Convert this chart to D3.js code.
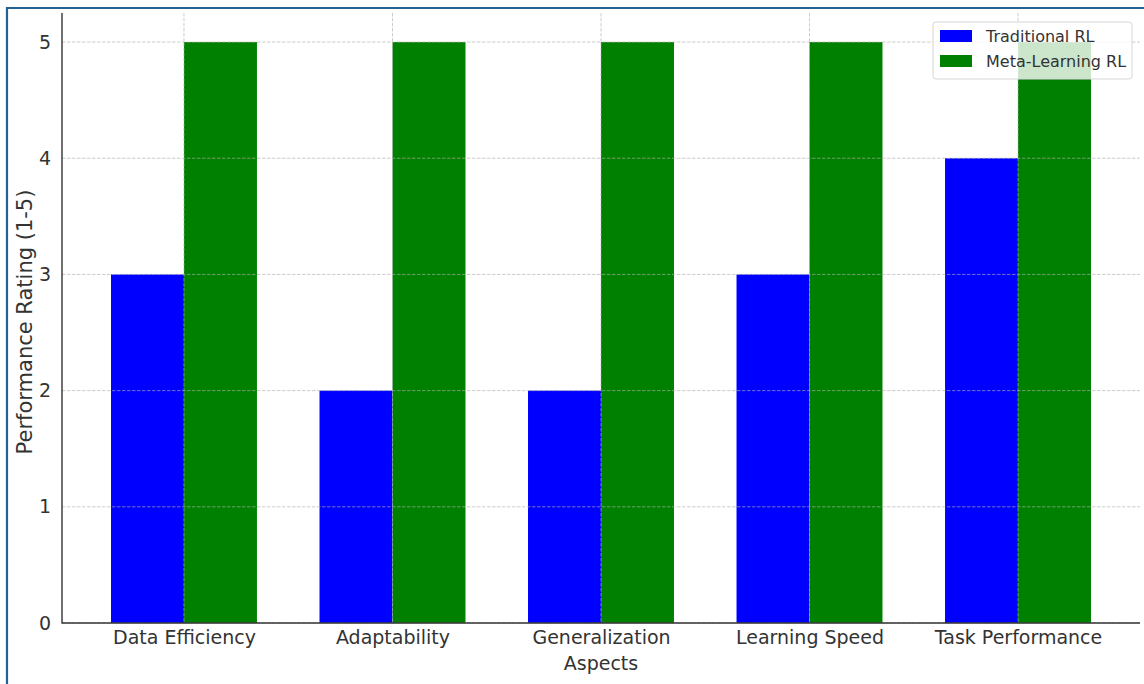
<!DOCTYPE html>
<html>
<head>
<meta charset="utf-8">
<script src="https://cdn.jsdelivr.net/npm/d3@7"></script>
<style>
  html, body { margin: 0; padding: 0; background: #fff; }
  svg { display: block; font-family: "DejaVu Sans", sans-serif; }
</style>
</head>
<body>
<svg id="chart" width="1144" height="684"></svg>
<script>
// Ratings of two RL approaches across five aspects
const categories = ["Data Efficiency", "Adaptability", "Generalization", "Learning Speed", "Task Performance"];
const traditional = [3, 2, 2, 3, 4];
const metaLearning = [5, 5, 5, 5, 5];
const seriesNames = ["Traditional RL", "Meta-Learning RL"];
const seriesColors = ["#0000ff", "#008000"];
const yTicks = [0, 1, 2, 3, 4, 5];

const svg = d3.select("#chart");
const W = 1144, H = 684;
const FS = 19;

// outer frame (left and top edges)
svg.append("path")
  .attr("d", `M7,${H} L7,8 L${W},8`)
  .attr("fill", "none")
  .attr("stroke", "#236293")
  .attr("stroke-width", 2.2);

const plot = { left: 62, right: 1140, top: 13, bottom: 623 };
const barWidth = 0.35;

// index-based x scale with matplotlib-like margins
const x = d3.scaleLinear()
  .domain([-barWidth - 0.235, categories.length - 1 + barWidth + 0.235])
  .range([plot.left, plot.right]);
const y = d3.scaleLinear().domain([0, 5.25]).range([plot.bottom, plot.top]);

const series = [traditional, metaLearning];
const g = svg.append("g");

// bars
series.forEach((vals, si) => {
  g.selectAll(null)
    .data(vals)
    .enter()
    .append("rect")
    .attr("x", (d, i) => x(i + (si === 0 ? -barWidth : 0)))
    .attr("width", x(barWidth) - x(0))
    .attr("y", d => y(d))
    .attr("height", d => y(0) - y(d))
    .attr("fill", seriesColors[si]);
});

// dashed grid drawn above the bars
const grid = svg.append("g")
  .attr("stroke", "#b0b0b0")
  .attr("stroke-opacity", 0.7)
  .attr("stroke-width", 0.9)
  .attr("stroke-dasharray", "3.5,1.5");
grid.selectAll(null).data(yTicks).enter().append("line")
  .attr("x1", plot.left).attr("x2", plot.right)
  .attr("y1", d => y(d)).attr("y2", d => y(d));
grid.selectAll(null).data(categories.map((c, i) => i)).enter().append("line")
  .attr("x1", d => x(d)).attr("x2", d => x(d))
  .attr("y1", plot.top).attr("y2", plot.bottom);

// y axis
const yAxis = d3.axisLeft(y).tickValues(yTicks).tickFormat(d3.format("d")).tickSize(0).tickPadding(11);
const yg = svg.append("g").attr("transform", `translate(${plot.left},0)`).call(yAxis);
yg.select(".domain").remove();
yg.selectAll("text").attr("font-size", FS).attr("fill", "#333").attr("font-family", "DejaVu Sans");

// x axis
const xAxis = d3.axisBottom(x).tickValues(categories.map((c, i) => i))
  .tickFormat((d) => categories[d]).tickSize(0).tickPadding(8);
const xg = svg.append("g").attr("transform", `translate(0,${plot.bottom})`).call(xAxis);
xg.select(".domain").remove();
xg.selectAll("text").attr("font-size", FS).attr("fill", "#333").attr("font-family", "DejaVu Sans");

// spines
svg.append("line").attr("x1", plot.left).attr("x2", plot.left)
  .attr("y1", plot.top).attr("y2", plot.bottom + 0.5)
  .attr("stroke", "#333").attr("stroke-width", 1.4);
svg.append("line").attr("x1", plot.left).attr("x2", plot.right)
  .attr("y1", plot.bottom).attr("y2", plot.bottom)
  .attr("stroke", "#333").attr("stroke-width", 1.4);

// axis titles
svg.append("text")
  .attr("x", (plot.left + plot.right) / 2).attr("y", 670)
  .attr("text-anchor", "middle").attr("font-size", FS).attr("fill", "#333")
  .text("Aspects");
svg.append("text")
  .attr("transform", "translate(32,322) rotate(-90)")
  .attr("text-anchor", "middle").attr("font-size", 21).attr("fill", "#333")
  .text("Performance Rating (1-5)");

// legend
const lg = svg.append("g").attr("transform", "translate(933,22)");
lg.append("rect")
  .attr("width", 199).attr("height", 57).attr("rx", 3)
  .attr("fill", "#fff").attr("fill-opacity", 0.8)
  .attr("stroke", "#d6d6d6");
seriesNames.forEach((name, i) => {
  lg.append("rect")
    .attr("x", 7).attr("y", 8 + i * 25).attr("width", 32).attr("height", 12)
    .attr("fill", seriesColors[i]);
  lg.append("text")
    .attr("x", 53).attr("y", 20 + i * 25)
    .attr("font-size", 16).attr("fill", "#333")
    .text(name);
});
</script>
</body>
</html>
